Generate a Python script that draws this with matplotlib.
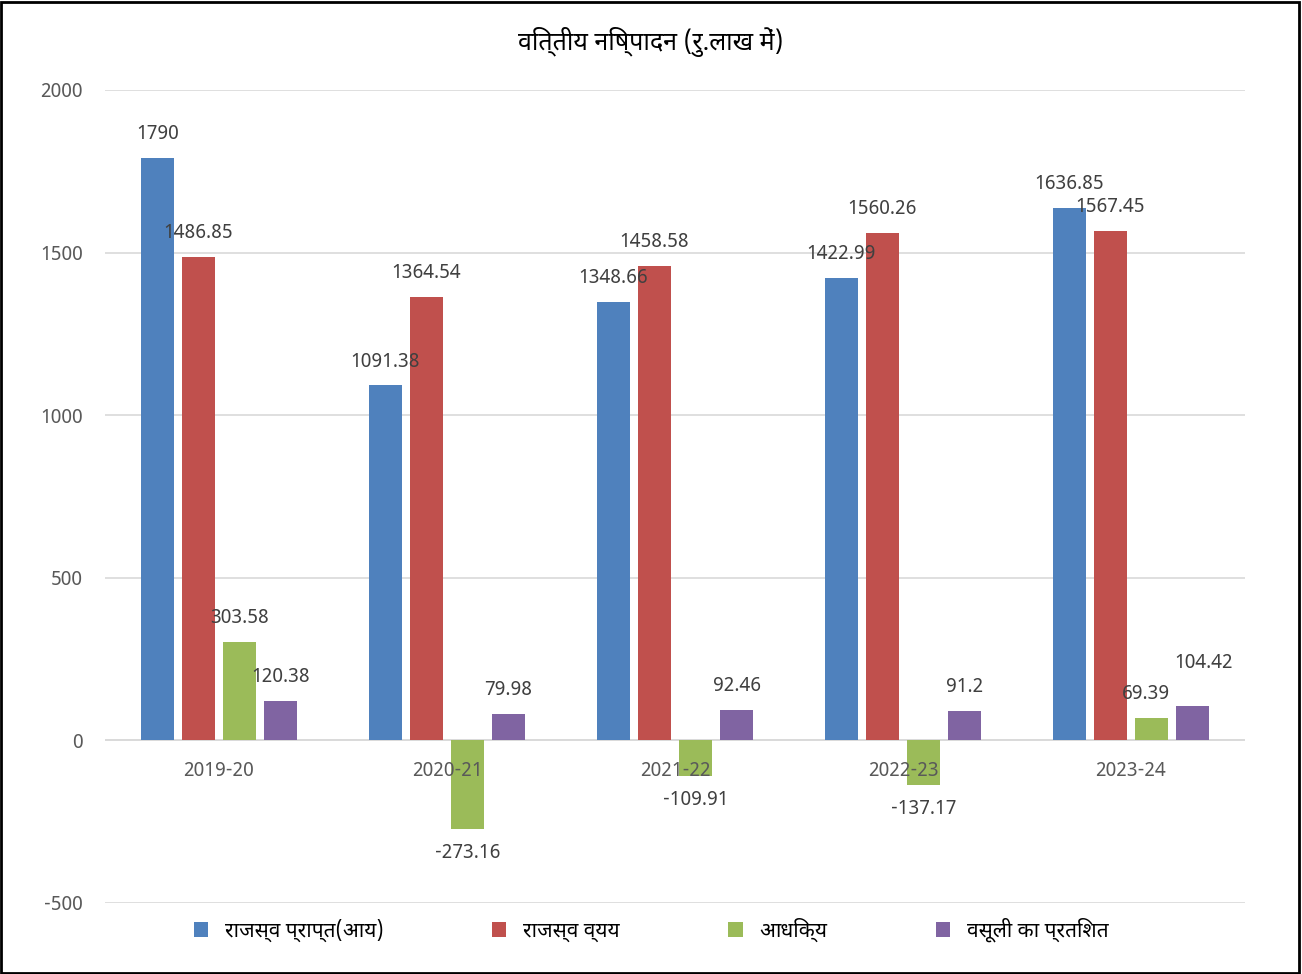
import numpy as np
import matplotlib.pyplot as plt
from matplotlib.patches import Rectangle

plt.rcParams['font.family'] = ['Noto Sans Devanagari', 'Noto Sans', 'DejaVu Sans']
plt.rcParams['axes.unicode_minus'] = False

years = ['2019-20', '2020-21', '2021-22', '2022-23', '2023-24']
revenue = [1790, 1091.38, 1348.66, 1422.99, 1636.85]
expense = [1486.85, 1364.54, 1458.58, 1560.26, 1567.45]
surplus = [303.58, -273.16, -109.91, -137.17, 69.39]
recovery = [120.38, 79.98, 92.46, 91.2, 104.42]
series_names = ['राजस्व प्राप्त(आय)', 'राजस्व व्यय', 'आधिक्य', 'वसूली का प्रतिशत']
colors = ['#4f81bd', '#c0504d', '#9bbb59', '#8064a2']

fig = plt.figure(figsize=(13.02, 9.74), dpi=100)
ax = fig.add_axes([0.0806, 0.0729, 0.8756, 0.8347])

x = np.arange(len(years))
width = 0.145
step = 0.18
all_series = [revenue, expense, surplus, recovery]
# nudge a couple of labels so they do not collide (like the original)
nudge = {(3, 4): (8, 14), (2, 4): (-4, 0)}
for i, (vals, name, c) in enumerate(zip(all_series, series_names, colors)):
    pos = x + (i - 1.5) * step
    ax.bar(pos, vals, width, color=c, label=name, zorder=2)
    for j, (p, v) in enumerate(zip(pos, vals)):
        dx, dy = nudge.get((i, j), (0, 0))
        if v >= 0:
            ax.annotate(f'{v:g}', (p, v), xytext=(dx, 10 + dy), textcoords='offset points',
                        ha='center', va='bottom', fontsize=14, color='#404040')
        else:
            ax.annotate(f'{v:g}', (p, v), xytext=(dx, -10 - dy), textcoords='offset points',
                        ha='center', va='top', fontsize=14, color='#404040')

# category labels sit just under the zero line
for xi, yr in zip(x, years):
    ax.annotate(yr, (xi, 0), xytext=(0, -15), textcoords='offset points',
                ha='center', va='top', fontsize=14, color='#595959')

ax.set_xlim(-0.5, 4.5)
ax.set_ylim(-500, 2000)
ax.set_yticks([-500, 0, 500, 1000, 1500, 2000])
ax.set_xticks([])
ax.tick_params(length=0, labelsize=14, labelcolor='#595959')
ax.tick_params(axis='y', pad=16)
ax.grid(axis='y', color='#d9d9d9', linewidth=1.2, zorder=0)
ax.axhline(0, color='#d9d9d9', linewidth=1.2, zorder=1)
for s in ax.spines.values():
    s.set_visible(False)

fig.suptitle('वित्तीय निष्पादन (रु.लाख में)', y=0.972, fontsize=18, fontweight='bold')

fig.legend(loc='center', bbox_to_anchor=(0.5, 0.045), ncol=4, frameon=False,
           fontsize=15, handlelength=0.7, handleheight=0.7, columnspacing=5.2)

fig.add_artist(Rectangle((0.001, 0.001), 0.997, 0.997, transform=fig.transFigure,
                         fill=False, edgecolor='black', linewidth=2))

fig.savefig('out.png', dpi=100)
